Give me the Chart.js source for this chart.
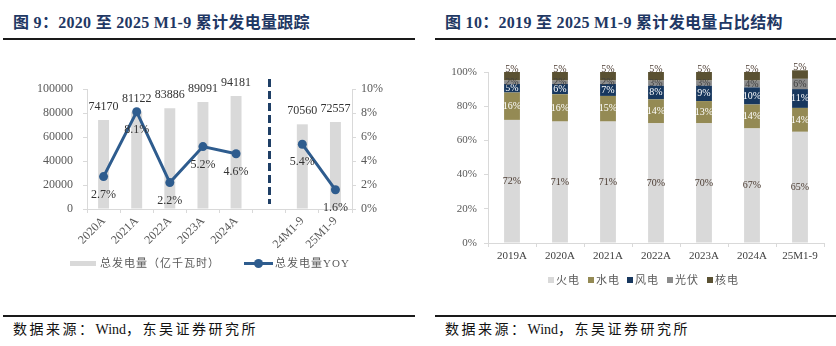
<!DOCTYPE html>
<html>
<head>
<meta charset="utf-8">
<script src="https://cdn.jsdelivr.net/npm/chart.js@4.4.1/dist/chart.umd.min.js"></script>
<style>
  html, body { margin: 0; padding: 0; background: #fff; }
  body { position: relative; width: 836px; height: 346px; overflow: hidden;
         font-family: "Liberation Serif", "Noto Sans CJK SC", serif; }
  .title { position: absolute; top: 12px; font-size: 16px; font-weight: bold; color: #1F3864;
           white-space: nowrap; line-height: 22px; letter-spacing: 0.3px; }
  .rule { position: absolute; height: 2px; background: #1a1a1a; }
  canvas { position: absolute; }
  .src { position: absolute; top: 321px; font-size: 14px; color: #111; white-space: nowrap;
         line-height: 18px; }
  .src .cj { letter-spacing: 2.5px; }
  .lg { position: absolute; font-size: 11px; color: #595959; white-space: nowrap;
        line-height: 14px; letter-spacing: 1px; }
  .sw { position: absolute; }
</style>
</head>
<body>
<div class="title" style="left:13px">图 9：2020 至 2025 M1-9 累计发电量跟踪</div>
<div class="rule" style="left:3px; width:412px; top:38px"></div>
<div class="title" style="left:445px">图 10：2019 至 2025 M1-9 累计发电量占比结构</div>
<div class="rule" style="left:435px; width:401px; top:38px"></div>

<canvas id="genChart" width="418" height="260" style="left:0; top:40px; width:418px; height:260px"></canvas>
<canvas id="mixChart" width="418" height="260" style="left:418px; top:40px; width:418px; height:260px"></canvas>

<!-- legend: total generation -->
<div class="sw" style="left:70px; top:261px; width:26px; height:5px; background:#D9D9D9"></div>
<div class="lg" style="left:100px; top:256px">总发电量（亿千瓦时）</div>
<div class="sw" style="left:244px; top:262px; width:29px; height:3px; background:#2E5C8E"></div>
<div class="sw" style="left:254px; top:259px; width:9px; height:9px; border-radius:50%; background:#2E5C8E"></div>
<div class="lg" style="left:275px; top:256px">总发电量YOY</div>

<!-- legend: generation mix -->
<div id="mixLegend"></div>

<div class="rule" style="left:3px; width:412px; top:315px"></div>
<div class="rule" style="left:435px; width:401px; top:315px"></div>
<div class="src" style="left:13px"><span class="cj">数据来源：</span>Wind<span class="cj">，东吴证券研究所</span></div>
<div class="src" style="left:445px"><span class="cj">数据来源：</span>Wind<span class="cj">，东吴证券研究所</span></div>

<script>
// ---- cumulative generation (100 million kWh) and year-on-year growth (%) ----
const genPeriods = ['2020A', '2021A', '2022A', '2023A', '2024A', '', '24M1-9', '25M1-9'];
const genTotal   = [74170, 81122, 83886, 89091, 94181, null, 70560, 72557];
const genYoy     = [2.7, 8.1, 2.2, 5.2, 4.6, null, 5.4, 1.6];
const genTicksLeft  = [0, 20000, 40000, 60000, 80000, 100000];
const genTicksRight = [0, 2, 4, 6, 8, 10];

// ---- generation mix by source (%) ----
const mixPeriods = ['2019A', '2020A', '2021A', '2022A', '2023A', '2024A', '25M1-9'];
const thermal = [72, 71, 71, 70, 70, 67, 65];
const hydro   = [16, 16, 15, 14, 13, 14, 14];
const wind    = [5, 6, 7, 8, 9, 10, 11];
const solar   = [2, 2, 2, 3, 3, 4, 6];
const nuclear = [5, 5, 5, 5, 5, 5, 5];
const mixNames = ['火电', '水电', '风电', '光伏', '核电'];
const mixTicks = [0, 20, 40, 60, 80, 100];

const SERIF = '"Liberation Serif", "Noto Sans CJK SC", serif';
const AXIS_GREY = '#D9D9D9';
Chart.defaults.animation = false;
Chart.defaults.responsive = false;
Chart.defaults.devicePixelRatio = 1;

// value labels plus the dashed separator between annual and YTD periods
const genDecor = {
  id: 'genDecor',
  afterDatasetsDraw(chart) {
    const ctx = chart.ctx;
    const area = chart.chartArea;
    const sx = Math.round(chart.scales.x.getPixelForValue(5)) + 0.5;
    ctx.save();
    ctx.strokeStyle = '#1F3F66';
    ctx.lineWidth = 3;
    ctx.setLineDash([8, 4]);
    ctx.beginPath();
    ctx.moveTo(sx, area.top - 10);
    ctx.lineTo(sx, area.bottom - 5);
    ctx.stroke();
    ctx.setLineDash([]);

    ctx.font = '12px ' + SERIF;
    ctx.fillStyle = '#333333';
    ctx.textAlign = 'center';
    ctx.textBaseline = 'middle';
    chart.getDatasetMeta(1).data.forEach((el, i) => {
      if (genTotal[i] == null) return;
      ctx.fillText(String(genTotal[i]), el.x, el.y - 13);
    });
    chart.getDatasetMeta(0).data.forEach((el, i) => {
      if (genYoy[i] == null) return;
      ctx.fillText(genYoy[i].toFixed(1) + '%', el.x, el.y + 18);
    });
    ctx.restore();
  }
};

new Chart(document.getElementById('genChart'), {
  data: {
    labels: genPeriods,
    datasets: [
      { type: 'line', label: '总发电量YOY', data: genYoy, yAxisID: 'y1', order: 0,
        borderColor: '#2E5C8E', backgroundColor: '#2E5C8E', borderWidth: 3,
        pointRadius: 4.5, pointBorderWidth: 0, pointBackgroundColor: '#2E5C8E',
        spanGaps: false, tension: 0 },
      { type: 'bar', label: '总发电量（亿千瓦时）', data: genTotal, yAxisID: 'y', order: 1,
        backgroundColor: '#D9D9D9', barPercentage: 0.33, categoryPercentage: 1 }
    ]
  },
  options: {
    layout: { padding: { top: 49, left: 0, right: 0, bottom: 0 } },
    plugins: { legend: { display: false }, tooltip: { enabled: false } },
    scales: {
      x: {
        offset: true,
        grid: { drawOnChartArea: false, color: AXIS_GREY, tickLength: 4, offset: true },
        border: { color: AXIS_GREY },
        ticks: { color: '#595959', font: { family: SERIF, size: 12 }, autoSkip: false,
                 maxRotation: 45, minRotation: 45, padding: 1 },
        afterFit(s) { s.height = 91; }
      },
      y: {
        position: 'left', min: 0, max: 100000,
        afterBuildTicks(s) { s.ticks = genTicksLeft.map(v => ({ value: v })); },
        grid: { drawOnChartArea: false, color: AXIS_GREY, tickLength: 4 },
        border: { color: AXIS_GREY },
        ticks: { color: '#595959', font: { family: SERIF, size: 12 }, padding: 10,
                 callback: v => String(v) },
        afterFit(s) { s.width = 87; }
      },
      y1: {
        position: 'right', min: 0, max: 10,
        afterBuildTicks(s) { s.ticks = genTicksRight.map(v => ({ value: v })); },
        grid: { drawOnChartArea: false, color: AXIS_GREY, tickLength: 4 },
        border: { color: AXIS_GREY },
        ticks: { color: '#595959', font: { family: SERIF, size: 12 }, padding: 5,
                 callback: v => v + '%' },
        afterFit(s) { s.width = 66; }
      }
    }
  },
  plugins: [genDecor]
});

// ---- generation mix stacked bars ----
const mixSeries = [thermal, hydro, wind, solar, nuclear];
const mixColors = ['#D9D9D9', '#948A54', '#17375E', '#8C8C8C', '#5A5132'];
const mixLabelColors = ['#4A3A30', '#FFFFFF', '#FFFFFF', '#404040', '#4A3A30'];

const mixLabels = {
  id: 'mixLabels',
  afterDatasetsDraw(chart) {
    const ctx = chart.ctx;
    ctx.save();
    ctx.font = '10px ' + SERIF;
    ctx.textAlign = 'center';
    ctx.textBaseline = 'middle';
    mixSeries.forEach((series, d) => {
      ctx.fillStyle = mixLabelColors[d];
      chart.getDatasetMeta(d).data.forEach((el, i) => {
        const y = d === mixSeries.length - 1 ? el.y - 3 : (el.y + el.base) / 2;
        ctx.fillText(series[i] + '%', el.x, y);
      });
    });
    ctx.restore();
  }
};

new Chart(document.getElementById('mixChart'), {
  type: 'bar',
  data: {
    labels: mixPeriods,
    datasets: mixSeries.map((s, d) => ({
      label: mixNames[d], data: s, backgroundColor: mixColors[d],
      barPercentage: 0.33, categoryPercentage: 1, clip: false
    }))
  },
  options: {
    layout: { padding: { top: 32, left: 0, right: 12, bottom: 0 } },
    plugins: { legend: { display: false }, tooltip: { enabled: false } },
    scales: {
      x: {
        stacked: true, offset: true,
        grid: { drawOnChartArea: false, color: AXIS_GREY, tickLength: 4, offset: true },
        border: { color: AXIS_GREY },
        ticks: { color: '#404040', font: { family: SERIF, size: 11 }, autoSkip: false,
                 maxRotation: 0, padding: 3 },
        afterFit(s) { s.height = 57; }
      },
      y: {
        stacked: true, min: 0, max: 100,
        afterBuildTicks(s) { s.ticks = mixTicks.map(v => ({ value: v })); },
        grid: { drawOnChartArea: false, color: AXIS_GREY, tickLength: 4 },
        border: { color: AXIS_GREY },
        ticks: { color: '#595959', font: { family: SERIF, size: 11 }, padding: 7,
                 callback: v => v + '%' },
        afterFit(s) { s.width = 70; }
      }
    }
  },
  plugins: [mixLabels]
});

// legend row for the mix chart
const legendBox = document.getElementById('mixLegend');
const legendX = [548, 588, 627, 667, 707];
mixNames.forEach((name, d) => {
  const sq = document.createElement('div');
  sq.className = 'sw';
  sq.style.cssText = `left:${legendX[d]}px; top:277px; width:6px; height:6px; background:${mixColors[d]}`;
  legendBox.appendChild(sq);
  const tx = document.createElement('div');
  tx.className = 'lg';
  tx.style.cssText = `left:${legendX[d] + 8}px; top:273px`;
  tx.textContent = name;
  legendBox.appendChild(tx);
});
</script>
</body>
</html>
